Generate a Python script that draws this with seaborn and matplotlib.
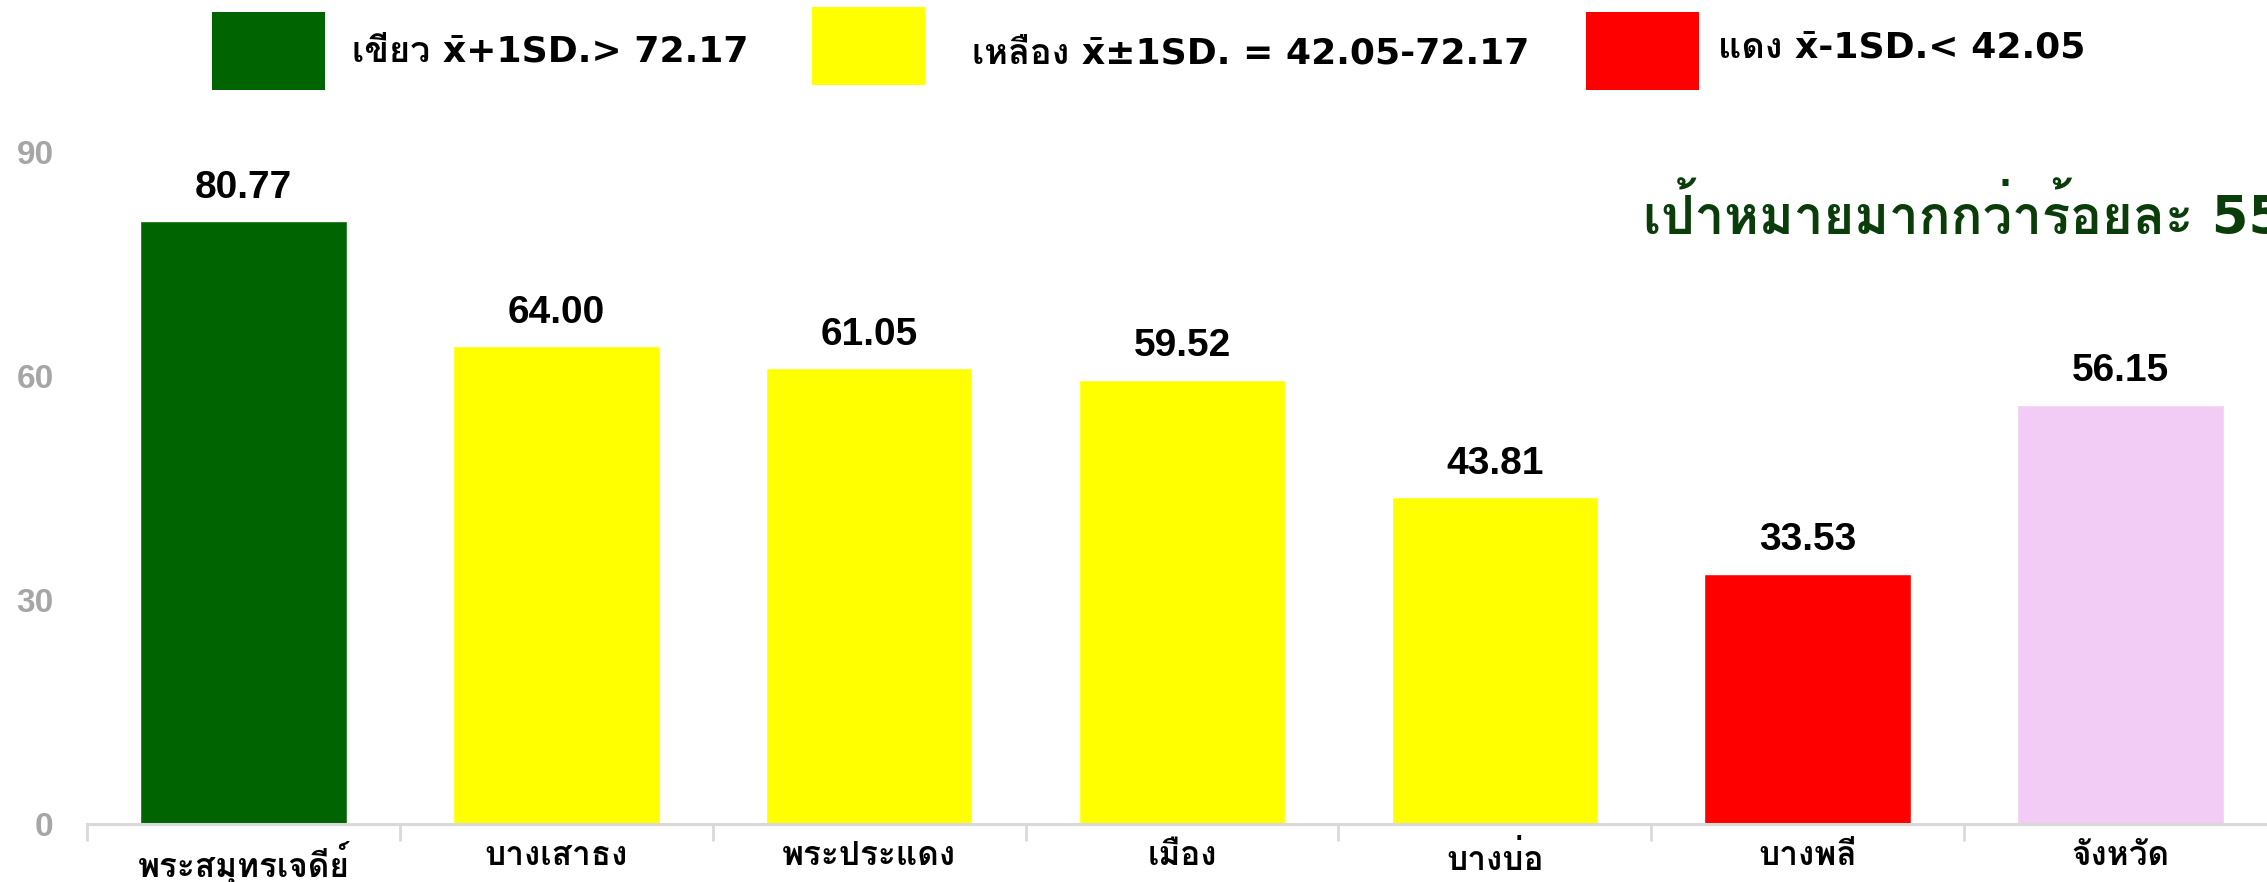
import matplotlib
matplotlib.use("Agg")
import matplotlib.pyplot as plt
import seaborn as sns
import pandas as pd
from matplotlib import font_manager
from matplotlib.ft2font import FT2Font
from matplotlib.patches import Rectangle
from matplotlib.ticker import FixedLocator

# data
districts = ["พระสมุทรเจดีย์", "บางเสาธง", "พระประแดง", "เมือง", "บางบ่อ", "บางพลี", "จังหวัด"]
rates = [80.77, 64.00, 61.05, 59.52, 43.81, 33.53, 56.15]
bar_colors = ["#006400", "#FFFF00", "#FFFF00", "#FFFF00", "#FFFF00", "#FF0000", "#F2CCF5"]
y_ticks = [0, 30, 60, 90]
legend_texts = ["เขียว x\u0304+1SD.> 72.17", "เหลือง x\u0304±1SD. = 42.05-72.17", "แดง x\u0304-1SD.< 42.05"]
legend_colors = ["#006400", "#FFFF00", "#FF0000"]
target_text = "เป้าหมายมากกว่าร้อยละ 55"


def find_thai_family():
    # installed fonts with Thai glyphs, bold faces first
    found = []
    for f in font_manager.fontManager.ttflist:
        try:
            if 0x0E01 not in FT2Font(f.fname).get_charmap():
                continue
        except Exception:
            continue
        w = f.weight
        if isinstance(w, str):
            w = font_manager.weight_dict.get(w, 400)
        found.append((w >= 600, f.name))
    found.sort(key=lambda t: not t[0])
    return found[0][1] if found else None


sns.set_theme(style="white")
thai = find_thai_family()
thai_first = ([thai] if thai else []) + ["DejaVu Sans"]
latin_first = ["DejaVu Sans"] + ([thai] if thai else [])
plt.rcParams["font.family"] = thai_first

W, H = 2267, 882
fig = plt.figure(figsize=(W / 100, H / 100), dpi=100)
ax = fig.add_axes([87 / W, 58 / H, 2190 / W, 672 / H])

df = pd.DataFrame({"district": districts, "rate": rates})
sns.barplot(data=df, x="district", y="rate", hue="district", palette=bar_colors,
            width=0.66, legend=False, saturation=1, ax=ax)

for cont in ax.containers:
    ax.bar_label(cont, fmt="%.2f", padding=11, fontsize=28, fontweight="bold",
                 color="black", family=["Liberation Sans"])

ax.set_xlim(-0.5, len(districts) - 0.5)
ax.set_ylim(0, 90)
ax.set_yticks(y_ticks)
ax.set_xlabel("")
ax.set_ylabel("")

for side in ["top", "right", "left"]:
    ax.spines[side].set_visible(False)
ax.spines["bottom"].set_color("#D9D9D9")
ax.spines["bottom"].set_linewidth(2.2)

ax.tick_params(axis="y", length=0, pad=24, labelsize=24, labelcolor="#A6A6A6")
for lab in ax.get_yticklabels():
    lab.set_fontweight("bold")
    lab.set_family(["Liberation Sans"])

ax.xaxis.set_minor_locator(FixedLocator([i - 0.5 for i in range(len(districts) + 1)]))
ax.tick_params(axis="x", which="major", length=0, pad=12, labelsize=24, labelcolor="black")
ax.tick_params(axis="x", which="minor", bottom=True, length=12, width=2, color="#D9D9D9")
for lab in ax.get_xticklabels():
    lab.set_fontweight("bold")

# colour key at the top
boxes = [(212, 12), (812, 7), (1586, 12)]
text_pos = [(352, 51), (972, 53), (1718, 48)]
for (bx, by), (tx, ty), col, txt in zip(boxes, text_pos, legend_colors, legend_texts):
    fig.add_artist(Rectangle((bx / W, 1 - (by + 78) / H), 113 / W, 78 / H,
                             transform=fig.transFigure, color=col, lw=0))
    fig.text(tx / W, 1 - ty / H, txt, fontsize=26, fontweight="bold",
             ha="left", va="center", color="black", family=latin_first)

fig.text(1643 / W, 1 - 217 / H, target_text, fontsize=38, fontweight="bold",
         ha="left", va="center", color="#0B3D0B", family=latin_first)

fig.savefig("out.png", dpi=100)
